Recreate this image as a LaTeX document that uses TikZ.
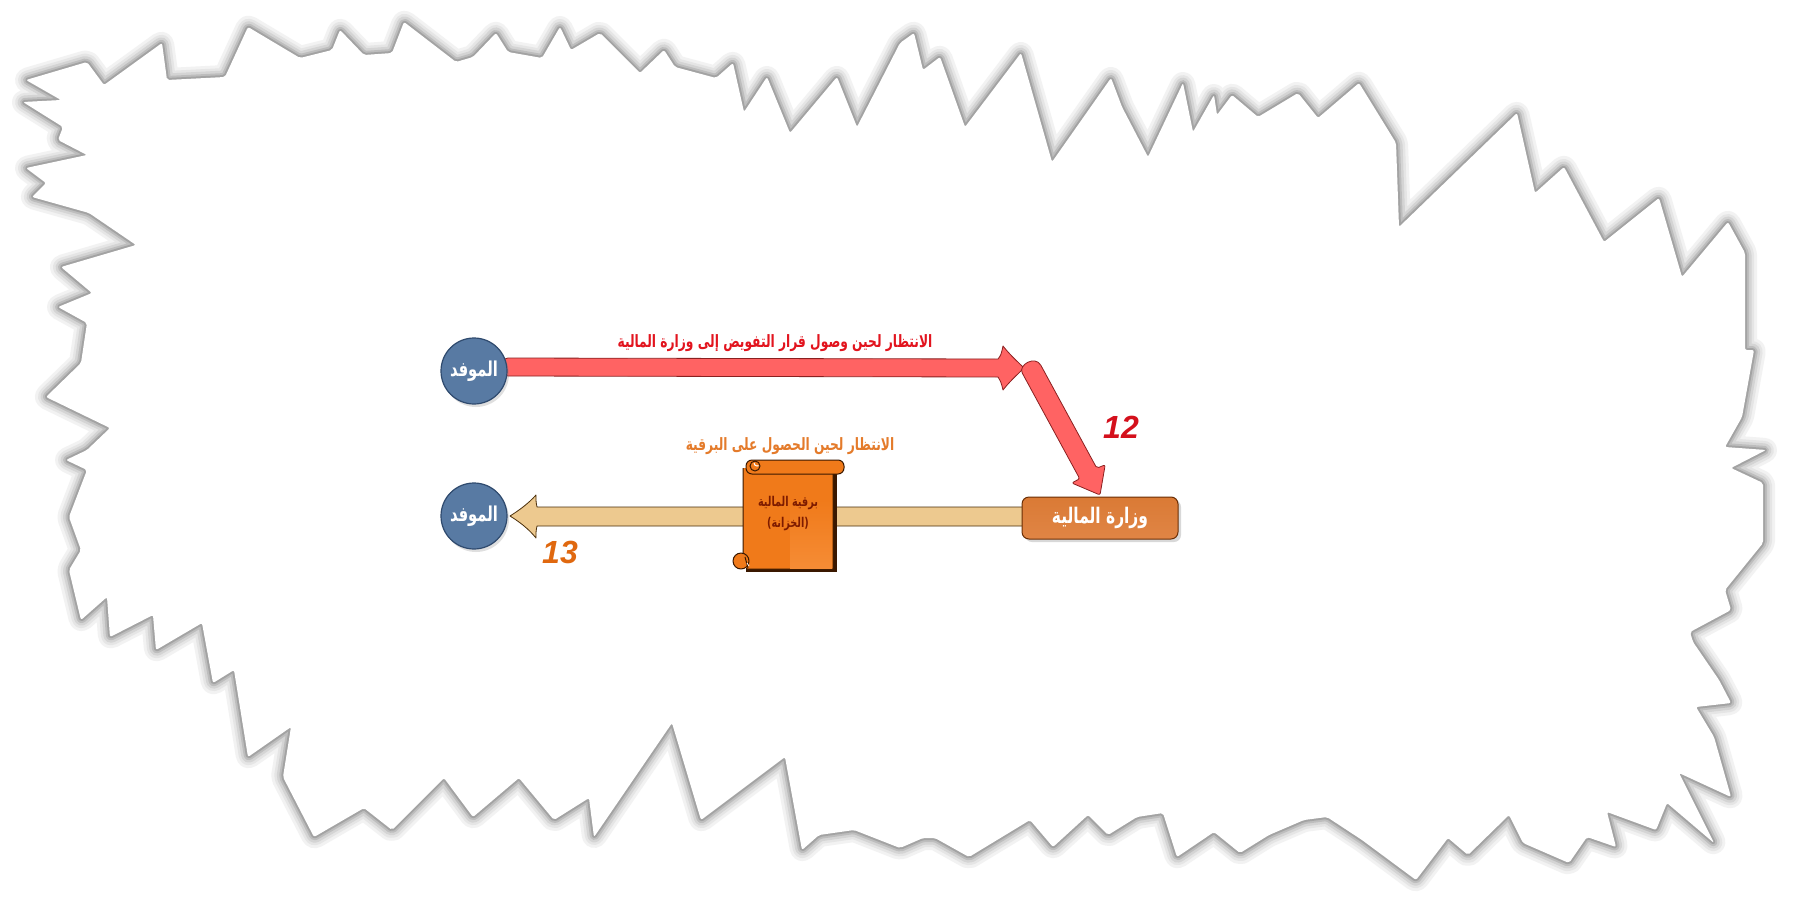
\documentclass[tikz,border=0pt]{standalone}
\usepackage{fontspec}
\setmainfont{Liberation Sans}
\newfontfamily\arfont[Script=Arabic,FakeStretch=0.72]{DejaVu Sans}
\TeXXeTstate=1
\usetikzlibrary{shadows}
\definecolor{blueC}{HTML}{587AA3}
\definecolor{blueD}{HTML}{2F4A6E}
\definecolor{redA}{HTML}{FF6363}
\definecolor{redD}{HTML}{8A2020}
\definecolor{tanC}{HTML}{EDC98F}
\definecolor{tanD}{HTML}{4A2E0A}
\definecolor{boxC}{HTML}{DA7A35}
\definecolor{boxL}{HTML}{E08545}
\definecolor{boxD}{HTML}{6A2E05}
\definecolor{scrC}{HTML}{F07A1A}
\definecolor{scrL}{HTML}{F58C35}
\definecolor{scrD}{HTML}{3A1800}
\definecolor{scrT}{HTML}{7D1B00}
\definecolor{numR}{HTML}{D4101C}
\definecolor{numO}{HTML}{E0680F}
\definecolor{lblR}{HTML}{E2141E}
\definecolor{lblO}{HTML}{E47B2B}
\newcommand\paperpath{(26,80) -- (87,62) -- (104,85) -- (162,43) -- (167,80) -- (225,77) -- (248,27) -- (300,58) -- (332,50) -- (340,30) -- (364,55) -- (392,53) -- (404,22) -- (456,62) -- (473,57) -- (496,33) -- (508,52) -- (542,58) -- (560,27) -- (571,50) -- (600,33) -- (640,73) -- (664,50) -- (675,67) -- (716,78) -- (733,63) -- (744,112) -- (767,77) -- (790,133) -- (837,77) -- (857,127) -- (900,43) -- (914,33) -- (923,70) -- (940,57) -- (965,127) -- (1021,53) -- (1052,162) -- (1111,78) -- (1122,107) -- (1148,157) -- (1183,83) -- (1193,132) -- (1214,95) -- (1217,115) -- (1232,95) -- (1258,117) -- (1298,93) -- (1318,118) -- (1359,83) -- (1396,143) -- (1399,227) -- (1517,113) -- (1535,193) -- (1564,167) -- (1604,242) -- (1659,198) -- (1682,277) -- (1728,222) -- (1745,253) -- (1745,350) -- (1754,350) -- (1742,417) -- (1725,447) -- (1766,450) -- (1731,468) -- (1763,483) -- (1763,543) -- (1725,590) -- (1731,610) -- (1690,632) -- (1693,642) -- (1719,680) -- (1731,703) -- (1696,707) -- (1714,737) -- (1731,797) -- (1679,773) -- (1714,843) -- (1667,803) -- (1656,830) -- (1607,812) -- (1616,847) -- (1587,837) -- (1569,863) -- (1523,843) -- (1509,815) -- (1468,855) -- (1448,838) -- (1416,880) -- (1362,840) -- (1327,817) -- (1304,820) -- (1269,835) -- (1240,853) -- (1214,832) -- (1177,857) -- (1163,813) -- (1137,817) -- (1108,835) -- (1088,815) -- (1053,847) -- (1030,820) -- (969,857) -- (935,838) -- (923,838) -- (900,848) -- (854,830) -- (819,835) -- (802,850) -- (785,757) -- (701,820) -- (672,723) -- (594,837) -- (589,798) -- (554,820) -- (519,778) -- (473,817) -- (444,778) -- (392,830) -- (364,808) -- (314,837) -- (283,777) -- (291,727) -- (248,757) -- (234,670) -- (213,683) -- (202,623) -- (156,650) -- (153,615) -- (110,637) -- (107,597) -- (81,620) -- (69,570) -- (81,550) -- (69,517) -- (87,470) -- (66,460) -- (87,450) -- (110,428) -- (46,397) -- (81,363) -- (87,323) -- (58,307) -- (92,293) -- (61,267) -- (136,245) -- (89,213) -- (32,197) -- (46,183) -- (26,168) -- (87,155) -- (58,140) -- (63,127) -- (23,102) -- (61,100) -- cycle}
\tikzset{
  circ/.style={circle, minimum size=66pt, inner sep=0pt, fill=blueC, draw=blueD, line width=1.2pt,
    text=white, font=\arfont\bfseries\fontsize{20.5}{20.5}\selectfont,
    drop shadow={opacity=0.25, shadow xshift=2pt, shadow yshift=-3pt}},
  mbox/.style={rectangle, rounded corners=7pt, minimum width=156pt, minimum height=42pt, inner sep=0pt,
    top color=boxC, bottom color=boxL, draw=boxD, line width=1pt, text=white,
    font=\arfont\bfseries\fontsize{21.5}{21.5}\selectfont,
    drop shadow={opacity=0.3, shadow xshift=3pt, shadow yshift=-3pt}},
  blockR/.style={fill=redA, draw=redD, line width=0.8pt, line join=round},
  blockT/.style={fill=tanC, draw=tanD, line width=0.8pt, line join=round},
  scr/.style={fill=scrC, draw=scrD, line width=1pt, line join=round},
  lbl/.style={inner sep=0pt, font=\arfont\bfseries\fontsize{17}{17}\selectfont},
  num/.style={inner sep=0pt, font=\bfseries\itshape\fontsize{32}{32}\selectfont},
  stxt/.style={inner sep=0pt, align=center, text=scrT, font=\arfont\bfseries\fontsize{13.5}{21}\selectfont}
}
\begin{document}
\begin{tikzpicture}[x=1pt,y=-1pt]
\useasboundingbox (0,0) rectangle (1800,900);
\fill[white] (0,0) rectangle (1800,900);
% torn paper with soft grey edge
\foreach \w/\c in {24/5,18/10,13/17,8/26,4/36}{
  \draw[line width=\w pt, black!\c, line join=round, rounded corners=2pt] \paperpath;
}
\fill[white, rounded corners=2pt] \paperpath;

% coordinates for free ends
\coordinate (rtip) at (1024,368);
\coordinate (dtip) at (1100,495);
\coordinate (ttip) at (510,516);

% red horizontal block arrow
\draw[blockR] (508,358) -- (998,359) .. controls (1001,355) .. (1003,346)
  .. controls (1010,355) and (1018,362) .. (rtip)
  .. controls (1018,374) and (1010,381) .. (1003,390)
  .. controls (1001,382) .. (998,377) -- (508,376)
  .. controls (500,376) and (500,358) .. (508,358) -- cycle;

% red diagonal block arrow
\draw[blockR, rounded corners=2pt] (1040.8,365.2) -- (1096.8,468.2) -- (1105.2,464.8) -- (dtip)
  -- (1071.8,483) -- (1079.7,478.7) -- (1023.2,374.8) [sharp corners]
  .. controls (1018,365) and (1035,355) .. (1040.8,365.2) -- cycle;

% tan block arrow
\draw[blockT] (1030,507) -- (537,507) .. controls (536,502) .. (536,495)
  .. controls (528,504) and (518,511) .. (ttip)
  .. controls (518,521) and (528,528) .. (536,538)
  .. controls (536,531) .. (537,526) -- (1030,526);

% scroll
\fill[scrD] (746,473) rectangle (837,572);
\draw[scr] (743,468) -- (743,560) -- (747,569) -- (833,569) -- (833,470);
\fill[scrC] (744,469) rectangle (832,568);
\shade[left color=scrC, right color=scrL, shading angle=0] (790,500) rectangle (832,568);
\draw[scr, rounded corners=6pt] (746,460) rectangle (844,474);
\draw[scrD, line width=1pt, fill=scrC] (755,466) circle (5pt);
\draw[white, line width=1pt] (754,463) arc (180:300:3pt);
\draw[scr] (741,561) circle (8pt);
\draw[scrD, line width=1pt] (745,557) -- (748,568);
\draw[white, line width=0.8pt] (747,563) -- (749,566);
\node[stxt] (scroll) at (788,514) {\beginR برقية المالية\endR\\(الخزانة)};

% nodes
\node[circ] (m1) at (474,371) {\beginR الموفد\endR};
\node[circ] (m2) at (474,516) {\beginR الموفد\endR};
\node[mbox] (mf) at (1100,518) {\beginR وزارة المالية\endR};

% labels
\node[lbl, text=lblR] (l1) at (775,343) {\beginR الانتظار لحين وصول قرار التفويض إلى وزارة المالية\endR};
\node[lbl, text=lblO] (l2) at (790,446) {\beginR الانتظار لحين الحصول على البرقية\endR};
\node[num, text=numR] (n12) at (1121,427) {12};
\node[num, text=numO] (n13) at (560,552) {13};
\end{tikzpicture}
\end{document}
